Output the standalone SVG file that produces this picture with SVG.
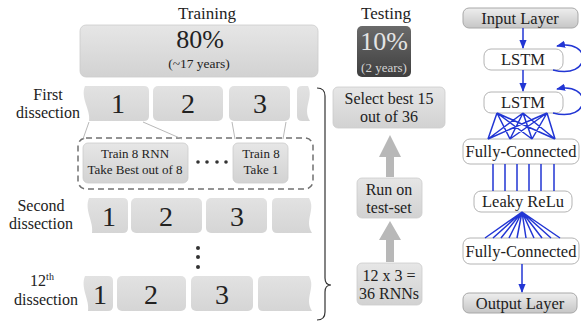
<svg xmlns="http://www.w3.org/2000/svg" width="581" height="322" viewBox="0 0 581 322" font-family="Liberation Serif, Times New Roman, serif">
<style>
text{font-family:'Liberation Serif',serif;fill:#222;text-anchor:middle}
.lbl{font-size:16px}
.num{font-size:28px}
.tc{font-size:16px}
.box{fill:url(#gGray);stroke:#cccccc;stroke-width:0.8}
.blk{fill:url(#gBlk)}
.net{fill:#fff;stroke:#b4b4b4;stroke-width:1}
.netg{fill:url(#gNet);stroke:#a8a8a8;stroke-width:1}
.nt{font-size:16.5px}
.blue{stroke:#2236d4;stroke-width:1.5;fill:none}
.thin{stroke:#b0b0b0;stroke-width:0.9;fill:none}
.fat{fill:#b8b8b8}
</style>
<defs>
<linearGradient id="gGray" x1="0" y1="0" x2="0" y2="1"><stop offset="0" stop-color="#e6e6e6"/><stop offset="1" stop-color="#d2d2d2"/></linearGradient>
<linearGradient id="gBlk" x1="0" y1="0" x2="0" y2="1"><stop offset="0" stop-color="#e2e2e2"/><stop offset="1" stop-color="#d5d5d5"/></linearGradient>
<linearGradient id="gDark" x1="0" y1="0" x2="0" y2="1"><stop offset="0" stop-color="#6a6a6a"/><stop offset="1" stop-color="#3f3f3f"/></linearGradient>
<linearGradient id="gNet" x1="0" y1="0" x2="0" y2="1"><stop offset="0" stop-color="#eeeeee"/><stop offset="1" stop-color="#c6c6c6"/></linearGradient>
<marker id="ab" viewBox="0 0 10 10" refX="9" refY="5" markerWidth="6" markerHeight="6" orient="auto"><path d="M0,1 L10,5 L0,9 Z" fill="#2236d4"/></marker>
</defs>
<g font-family="Liberation Serif, serif">

<g id="training">
<text class="lbl" x="207" y="19" style="font-size:17px">Training</text>
<rect class="box" x="80" y="25" width="238" height="52" rx="6"/>
<text x="200" y="48" style="font-size:26px">80%</text>
<text x="199" y="68" style="font-size:13.5px">(~17 years)</text>
</g>

<g id="testing">
<text class="lbl" x="386" y="19" style="font-size:17px">Testing</text>
<rect x="357" y="26" width="54" height="51" rx="5" fill="url(#gDark)"/>
<text x="384" y="50" style="font-size:26px;fill:#e4e4e4">10%</text>
<text x="384" y="72" style="font-size:13px;fill:#d4d4d4">(2 years)</text>
</g>

<g id="row1">
<text class="lbl" x="48" y="100">First</text>
<text class="lbl" x="48" y="118">dissection</text>
<path class="blk" d="M85,86 L144,86 Q149,86 149,91 L149,116 Q149,121 144,121 L89,121 C91,110 80,98 85,86 Z"/>
<rect class="blk" x="153" y="86" width="70" height="35" rx="5"/>
<rect class="blk" x="229" y="86" width="61" height="35" rx="5"/>
<path class="blk" d="M302,86 L308,86 C314,98 302,108 310,121 L302,121 Q297,121 297,116 L297,91 Q297,86 302,86 Z"/>
<text class="num" x="118" y="113">1</text>
<text class="num" x="188" y="113">2</text>
<text class="num" x="260" y="113">3</text>
</g>

<g id="detail">
<rect x="78" y="138" width="235" height="51" rx="8" fill="none" stroke="#707070" stroke-width="1.5" stroke-dasharray="6,4"/>
<rect class="box" x="83" y="143" width="105" height="40" rx="5"/>
<text x="135" y="158" style="font-size:13px">Train 8 RNN</text>
<text x="135" y="174" style="font-size:13px">Take Best out of 8</text>
<g fill="#333"><circle cx="198" cy="162" r="1.8"/><circle cx="207" cy="162" r="1.8"/><circle cx="217" cy="162" r="1.8"/><circle cx="226" cy="162" r="1.8"/></g>
<rect class="box" x="233" y="143" width="55" height="40" rx="5"/>
<text x="261" y="158" style="font-size:13px">Train 8</text>
<text x="261" y="174" style="font-size:13px">Take 1</text>
</g>

<g id="row2">
<text class="lbl" x="41" y="211">Second</text>
<text class="lbl" x="41" y="229">dissection</text>
<path class="blk" d="M89,198 L123,198 Q128,198 128,203 L128,228 Q128,233 123,233 L92,233 C94,222 84,210 89,198 Z"/>
<rect class="blk" x="131" y="198" width="71" height="35" rx="5"/>
<rect class="blk" x="206" y="198" width="61" height="35" rx="5"/>
<path class="blk" d="M277,198 L309,198 C316,210 304,220 312,233 L277,233 Q272,233 272,228 L272,203 Q272,198 277,198 Z"/>
<text class="num" x="109" y="226">1</text>
<text class="num" x="166" y="226">2</text>
<text class="num" x="237" y="226">3</text>
</g>

<g id="vdots" fill="#333"><circle cx="198" cy="248" r="2"/><circle cx="198" cy="257" r="2"/><circle cx="198" cy="267" r="2"/></g>

<g id="row3">
<text class="lbl" x="42" y="286">12<tspan dy="-6" style="font-size:10px">th</tspan></text>
<text class="lbl" x="46" y="305">dissection</text>
<path class="blk" d="M85,276 L108,276 Q113,276 113,281 L113,306 Q113,311 108,311 L88,311 C90,300 80,288 85,276 Z"/>
<rect class="blk" x="117" y="276" width="69" height="35" rx="5"/>
<rect class="blk" x="191" y="276" width="62" height="35" rx="5"/>
<path class="blk" d="M263,276 L309,276 C316,288 304,298 312,311 L263,311 Q258,311 258,306 L258,281 Q258,276 263,276 Z"/>
<text class="num" x="100" y="304">1</text>
<text class="num" x="151" y="304">2</text>
<text class="num" x="222" y="304">3</text>
</g>

<g id="select">
<rect class="box" x="333" y="87" width="112" height="41" rx="5"/>
<text class="tc" x="389" y="104">Select best 15</text>
<text class="tc" x="389" y="122">out of 36</text>
</g>
<g id="runon">
<rect class="box" x="357" y="178" width="65" height="40" rx="5"/>
<text class="tc" x="389" y="195">Run on</text>
<text class="tc" x="389" y="213">test-set</text>
</g>
<g id="rnns">
<rect class="box" x="357" y="263" width="65" height="42" rx="5"/>
<text class="tc" x="389" y="281">12 x 3 =</text>
<text class="tc" x="389" y="299">36 RNNs</text>
</g>

<g id="input"><rect class="netg" x="463" y="8" width="115" height="20" rx="6"/><text class="nt" x="520" y="24">Input Layer</text></g>
<g id="lstm1"><rect class="net" x="484" y="49" width="79" height="21" rx="7"/><text class="nt" x="523" y="65">LSTM</text></g>
<g id="lstm2"><rect class="net" x="484" y="92" width="79" height="21" rx="7"/><text class="nt" x="523" y="108">LSTM</text></g>
<g id="fc1"><rect class="net" x="463" y="139" width="116" height="25" rx="7"/><text class="nt" x="521" y="157">Fully-Connected</text></g>
<g id="leaky"><rect class="net" x="474" y="191" width="98" height="21" rx="7"/><text class="nt" x="523" y="207">Leaky ReLu</text></g>
<g id="fc2"><rect class="net" x="463" y="238" width="116" height="26" rx="7"/><text class="nt" x="521" y="257">Fully-Connected</text></g>
<g id="output"><rect class="netg" x="463" y="293" width="114" height="20" rx="6"/><text class="nt" x="520" y="309">Output Layer</text></g>

<g id="connectors">
<path class="thin" d="M89,122 L83,139 M143,122 L182,139 M232,122 L235,139 M286,122 L283,139"/>
<path d="M317,88 Q325,88 325,96 L325,278 Q325,285 331,285 Q325,285 325,292 L325,312 Q325,320 317,320" fill="none" stroke="#333" stroke-width="1.2"/>
<path class="fat" d="M386,177 L386,157 L379,157 L390,135 L401,157 L394,157 L394,177 Z"/>
<path class="fat" d="M386,262 L386,240 L379,240 L390,221 L401,240 L394,240 L394,262 Z"/>
<line class="blue" x1="523" y1="28" x2="523" y2="48" marker-end="url(#ab)"/>
<line class="blue" x1="523" y1="70" x2="523" y2="91" marker-end="url(#ab)"/>
<path class="blue" d="M553,70 C592,80 592,38 557,46" marker-end="url(#ab)"/>
<path class="blue" d="M553,113 C592,123 592,81 557,89" marker-end="url(#ab)"/>
<path class="blue" d="M497,113 L488,139 M497,113 L510,139 M497,113 L532,139 M497,113 L555,139 M523,113 L488,139 M523,113 L510,139 M523,113 L532,139 M523,113 L555,139 M547,113 L488,139 M547,113 L510,139 M547,113 L532,139 M547,113 L555,139"/>
<path class="blue" d="M493,164 L493,191 M505,164 L505,191 M517,164 L517,191 M529,164 L529,191 M541,164 L541,191 M554,164 L554,191"/>
<path class="blue" d="M522,212 L485,238 M522,212 L493,238 M522,212 L501,238 M522,212 L509,238 M522,212 L517,238 M522,212 L526,238 M522,212 L534,238 M522,212 L542,238 M522,212 L551,238 M522,212 L560,238"/>
<line class="blue" x1="522" y1="264" x2="522" y2="292" marker-end="url(#ab)"/>
</g>
</g>
</svg>
